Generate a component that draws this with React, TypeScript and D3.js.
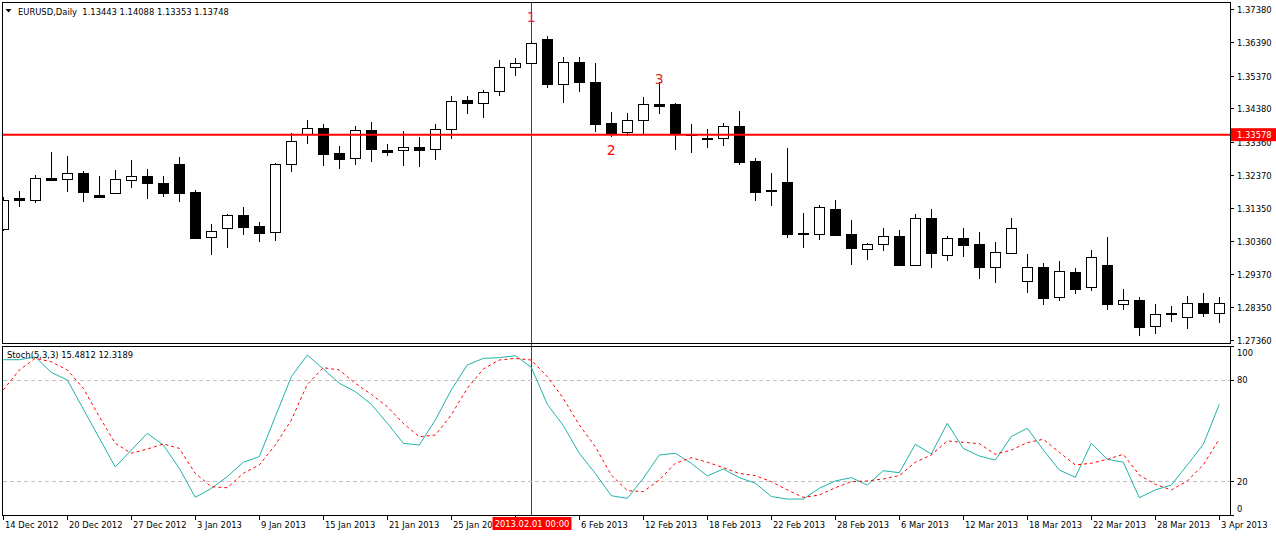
import { useEffect, useRef } from 'react'
import * as d3 from 'd3'

// daily bars, 14 Dec 2012 .. 3 Apr 2013
const barDates = [
  '2012-12-14', '2012-12-17', '2012-12-18', '2012-12-19', '2012-12-20', '2012-12-21', '2012-12-24', '2012-12-26', '2012-12-27', '2012-12-28',
  '2012-12-31', '2013-01-02', '2013-01-03', '2013-01-04', '2013-01-07', '2013-01-08', '2013-01-09', '2013-01-10', '2013-01-11', '2013-01-14',
  '2013-01-15', '2013-01-16', '2013-01-17', '2013-01-18', '2013-01-21', '2013-01-22', '2013-01-23', '2013-01-24', '2013-01-25', '2013-01-28',
  '2013-01-29', '2013-01-30', '2013-01-31', '2013-02-01', '2013-02-04', '2013-02-05', '2013-02-06', '2013-02-07', '2013-02-08', '2013-02-11',
  '2013-02-12', '2013-02-13', '2013-02-14', '2013-02-15', '2013-02-18', '2013-02-19', '2013-02-20', '2013-02-21', '2013-02-22', '2013-02-25',
  '2013-02-26', '2013-02-27', '2013-02-28', '2013-03-01', '2013-03-04', '2013-03-05', '2013-03-06', '2013-03-07', '2013-03-08', '2013-03-11',
  '2013-03-12', '2013-03-13', '2013-03-14', '2013-03-15', '2013-03-18', '2013-03-19', '2013-03-20', '2013-03-21', '2013-03-22', '2013-03-25',
  '2013-03-26', '2013-03-27', '2013-03-28', '2013-03-29', '2013-04-01', '2013-04-02', '2013-04-03',
]

const openPrices = [
  1.30729, 1.31668, 1.31608, 1.32265, 1.32226, 1.32408, 1.31750, 1.31820, 1.32196, 1.32326,
  1.32114, 1.32690, 1.31841, 1.30463, 1.30741, 1.31135, 1.30802, 1.30620, 1.32680, 1.33590,
  1.33771, 1.33023, 1.32862, 1.33711, 1.33114, 1.33105, 1.33196, 1.33135, 1.33741, 1.34629,
  1.34529, 1.34892, 1.35620, 1.35741, 1.36477, 1.35104, 1.35771, 1.35174, 1.33923, 1.33650,
  1.34014, 1.34517, 1.34508, 1.33599, 1.33477, 1.33468, 1.33841, 1.32780, 1.31902, 1.32144,
  1.30599, 1.30578, 1.31326, 1.30569, 1.30105, 1.30256, 1.30499, 1.29638, 1.31044, 1.29941,
  1.30438, 1.30256, 1.29578, 1.30002, 1.29135, 1.29569, 1.28650, 1.29408, 1.28954, 1.29629,
  1.28457, 1.28560, 1.27772, 1.28166, 1.28045, 1.28469, 1.28184,
]

const highPrices = [
  1.31699, 1.31871, 1.32356, 1.33053, 1.32932, 1.32477, 1.32326, 1.32508, 1.32811, 1.32538,
  1.32326, 1.32911, 1.31902, 1.30872, 1.31165, 1.31387, 1.30932, 1.32720, 1.33629, 1.34023,
  1.33902, 1.33235, 1.33841, 1.33962, 1.33296, 1.33680, 1.33508, 1.33902, 1.34750, 1.34750,
  1.34932, 1.35841, 1.35901, 1.36416, 1.36577, 1.35932, 1.35932, 1.35750, 1.34265, 1.34235,
  1.34720, 1.35183, 1.34538, 1.33902, 1.33741, 1.33932, 1.34295, 1.32871, 1.32417, 1.33174,
  1.31205, 1.31447, 1.31599, 1.30993, 1.30305, 1.30750, 1.30690, 1.31175, 1.31326, 1.30499,
  1.30750, 1.30629, 1.30326, 1.31053, 1.29963, 1.29690, 1.29750, 1.29538, 1.30084, 1.30478,
  1.28902, 1.28660, 1.28448, 1.28387, 1.28690, 1.28781, 1.28660,
]

const lowPrices = [
  1.30669, 1.31396, 1.31517, 1.32184, 1.31850, 1.31547, 1.31680, 1.31790, 1.31971, 1.31638,
  1.31699, 1.31547, 1.30417, 1.29932, 1.30153, 1.30547, 1.30335, 1.30366, 1.32456, 1.33305,
  1.32638, 1.32547, 1.32668, 1.32750, 1.32941, 1.32638, 1.32608, 1.32820, 1.33456, 1.34205,
  1.34092, 1.34759, 1.35365, 1.35720, 1.35001, 1.34547, 1.34880, 1.33668, 1.33499, 1.33529,
  1.33590, 1.34214, 1.33114, 1.33032, 1.33183, 1.33244, 1.32668, 1.31578, 1.31426, 1.30456,
  1.30153, 1.30396, 1.30517, 1.29638, 1.29781, 1.30063, 1.29614, 1.29614, 1.29547, 1.29760,
  1.29881, 1.29214, 1.29093, 1.29972, 1.28790, 1.28426, 1.28548, 1.28760, 1.28850, 1.28275,
  1.28275, 1.27487, 1.27548, 1.27911, 1.27699, 1.28063, 1.27881,
]

const closePrices = [
  1.31599, 1.31608, 1.32256, 1.32205, 1.32408, 1.31850, 1.31699, 1.32226, 1.32317, 1.32123,
  1.31820, 1.31820, 1.30447, 1.30659, 1.31135, 1.30790, 1.30608, 1.32680, 1.33377, 1.33771,
  1.33002, 1.32850, 1.33711, 1.33153, 1.33062, 1.33196, 1.33123, 1.33741, 1.34598, 1.34529,
  1.34871, 1.35620, 1.35750, 1.36347, 1.35104, 1.35771, 1.35165, 1.33911, 1.33599, 1.34023,
  1.34498, 1.34456, 1.33599, 1.33559, 1.33459, 1.33832, 1.32759, 1.31850, 1.31881, 1.30569,
  1.30581, 1.31387, 1.30547, 1.30153, 1.30256, 1.30499, 1.29638, 1.31044, 1.30002, 1.30438,
  1.30244, 1.29578, 1.30014, 1.30741, 1.29560, 1.28638, 1.29438, 1.28911, 1.29863, 1.28457,
  1.28560, 1.27760, 1.28135, 1.28145, 1.28469, 1.28184, 1.28469,
]

// Stochastic(5,3,3): main (%K) and signal (%D)
const stochMain = [
  92.0, 92.0, 93.6, 84.5, 80.0, 62.8, 45.6, 28.5, 38.5, 48.4,
  41.5, 27.7, 10.5, 15.8, 22.8, 31.3, 34.6, 58.3, 81.9, 94.8,
  86.5, 78.1, 73.1, 65.6, 54.4, 42.5, 41.5, 56.3, 74.1, 88.9,
  92.8, 93.2, 94.4, 87.5, 65.6, 53.0, 36.6, 24.7, 11.5, 9.9,
  21.8, 35.6, 36.6, 30.7, 23.2, 27.3, 22.2, 18.9, 11.0, 9.5,
  9.5, 15.9, 20.2, 22.2, 17.8, 26.3, 25.1, 41.9, 36.2, 54.3,
  39.5, 35.0, 32.6, 46.5, 51.4, 38.6, 26.7, 22.4, 42.5, 33.0,
  31.3, 10.3, 14.9, 17.8, 29.7, 41.9, 65.6,
]

const stochSignal = [
  74.1, 85.9, 92.8, 90.8, 85.9, 75.1, 58.3, 42.5, 36.6, 39.1,
  42.1, 39.5, 24.7, 16.8, 16.2, 24.7, 29.7, 41.5, 56.3, 77.4,
  87.3, 85.9, 78.0, 71.5, 64.2, 54.3, 46.4, 47.4, 59.3, 75.1,
  86.5, 91.8, 92.8, 91.8, 82.0, 69.1, 53.4, 40.5, 23.7, 14.5,
  13.9, 20.8, 30.7, 34.0, 31.3, 28.1, 24.7, 23.4, 19.8, 14.9,
  10.5, 11.9, 16.2, 19.8, 20.2, 21.4, 23.4, 31.3, 35.6, 43.9,
  43.1, 42.3, 36.0, 38.5, 42.9, 44.9, 37.2, 29.7, 30.7, 33.0,
  36.0, 23.7, 18.2, 14.9, 20.2, 29.7, 45.1,
]

const priceTicks = [1.3738, 1.3639, 1.3537, 1.3438, 1.3336, 1.3237, 1.3135, 1.3036, 1.2937, 1.2835, 1.2736]
const stochTicks = [100, 80, 20, 0]
const stochLevels = [80, 20]

const levelPrice = 1.33578
const cursorBar = 33
const waveLabels = ['1', '2', '3']
const waveBars = [33, 38, 41]
const wavePrices = [1.36992, 1.32962, 1.35128]
const waveColors = ['#e0185c', '#ff0000', '#d8301c']

const chartTitle = 'EURUSD,Daily  1.13443 1.14088 1.13353 1.13748'
const stochTitle = 'Stoch(5,3,3) 15.4812 12.3189'

export default function App() {
  const svgRef = useRef<SVGSVGElement>(null)

  useEffect(() => {
    if (!svgRef.current) return
    const svg = d3.select(svgRef.current)
    svg.selectAll('*').remove()

    const width = 1276
    const height = 536
    const plotRight = 1230
    const font = 'DejaVu Sans'
    const fontSize = 8.4

    const n = barDates.length
    const x = d3.scaleLinear().domain([0, n - 1]).range([3.3, 1219.3])
    const y = d3.scaleLinear().domain([1.2736, 1.3738]).range([339.9, 9.2])
    const ys = d3.scaleLinear().domain([0, 100]).range([515.1, 346.2])
    const px = (i: number) => Math.floor(x(i)) + 0.5
    const snap = (v: number) => Math.round(v) + 0.5

    const parse = d3.utcParse('%Y-%m-%d')
    const fmtTick = d3.utcFormat('%-d %b %Y')
    const fmtCursor = d3.utcFormat('%Y.%m.%d %H:%M')

    // cursor label box on the time axis
    const cx = px(cursorBar)
    const boxLeft = cx - 39
    const boxRight = cx + 40

    svg.append('rect').attr('width', width).attr('height', height).attr('fill', '#fff')

    const defs = svg.append('defs')
    defs.append('clipPath').attr('id', 'clip-main')
      .append('rect').attr('x', 3).attr('y', 3).attr('width', plotRight - 3).attr('height', 340)
    defs.append('clipPath').attr('id', 'clip-stoch')
      .append('rect').attr('x', 3).attr('y', 347).attr('width', plotRight - 3).attr('height', 168)
    const timeClip = defs.append('clipPath').attr('id', 'clip-time')
    timeClip.append('rect').attr('x', 0).attr('y', 516).attr('width', boxLeft).attr('height', 20)
    timeClip.append('rect').attr('x', boxRight).attr('y', 516).attr('width', width - boxRight).attr('height', 20)

    // cursor line behind everything
    svg.append('line')
      .attr('x1', cx).attr('x2', cx)
      .attr('y1', 3).attr('y2', 515)
      .attr('stroke', '#e00000').attr('stroke-width', 1)

    // ---- price panel
    const main = svg.append('g').attr('clip-path', 'url(#clip-main)')
    const bars = d3.range(n)

    main.selectAll('.wick').data(bars).enter().append('line')
      .attr('class', 'wick')
      .attr('x1', px).attr('x2', px)
      .attr('y1', i => Math.round(y(highPrices[i])))
      .attr('y2', i => Math.round(y(lowPrices[i])))
      .attr('stroke', '#000')
      .attr('stroke-width', 1)

    main.selectAll('.body').data(bars).enter().append('rect')
      .attr('class', 'body')
      .attr('x', i => Math.floor(x(i)) - 4.5)
      .attr('y', i => snap(y(Math.max(openPrices[i], closePrices[i]))))
      .attr('width', 10)
      .attr('height', i => Math.max(1,
        Math.round(y(Math.min(openPrices[i], closePrices[i]))) - Math.round(y(Math.max(openPrices[i], closePrices[i])))))
      .attr('fill', i => closePrices[i] > openPrices[i] ? '#fff' : '#000')
      .attr('stroke', '#000')
      .attr('stroke-width', 1)

    main.append('line')
      .attr('x1', 3).attr('x2', plotRight)
      .attr('y1', y(levelPrice)).attr('y2', y(levelPrice))
      .attr('stroke', '#ff0000').attr('stroke-width', 2)

    main.selectAll('.wave').data(waveLabels).enter().append('text')
      .attr('x', (_, k) => x(waveBars[k]))
      .attr('y', (_, k) => y(wavePrices[k]))
      .attr('text-anchor', 'middle')
      .attr('font-family', font)
      .attr('font-size', 14)
      .attr('fill', (_, k) => waveColors[k])
      .text(d => d)

    // header
    svg.append('path').attr('d', 'M5.5,9 L11.5,9 L8.5,12.5 Z').attr('fill', '#000')
    svg.append('text')
      .attr('x', 18).attr('y', 14.5)
      .attr('font-family', font).attr('font-size', fontSize)
      .style('white-space', 'pre')
      .text(chartTitle)

    // ---- stochastic panel
    const sub = svg.append('g').attr('clip-path', 'url(#clip-stoch)')

    sub.selectAll('.level').data(stochLevels).enter().append('line')
      .attr('x1', 3).attr('x2', plotRight)
      .attr('y1', d => snap(ys(d))).attr('y2', d => snap(ys(d)))
      .attr('stroke', '#c0c0c0').attr('stroke-dasharray', '4 3')

    const line = (vals: number[]) => d3.line<number>()
      .x(i => x(i))
      .y(i => ys(vals[i]))(bars)

    sub.append('path')
      .attr('d', line(stochMain))
      .attr('fill', 'none').attr('stroke', '#20b2aa').attr('stroke-width', 1)

    sub.append('path')
      .attr('d', line(stochSignal))
      .attr('fill', 'none').attr('stroke', '#ff0000').attr('stroke-width', 1)
      .attr('stroke-dasharray', '3 3')

    svg.append('text')
      .attr('x', 7).attr('y', 358)
      .attr('font-family', font).attr('font-size', fontSize)
      .text(stochTitle)

    // ---- frames
    svg.append('rect').attr('x', 2.5).attr('y', 2.5).attr('width', plotRight - 2).attr('height', 341)
      .attr('fill', 'none').attr('stroke', '#000')
    svg.append('rect').attr('x', 2.5).attr('y', 346.5).attr('width', plotRight - 2).attr('height', 169)
      .attr('fill', 'none').attr('stroke', '#000')

    // ---- price axis
    const priceAxis = svg.append('g')
    priceTicks.forEach(p => {
      const yy = snap(y(p))
      priceAxis.append('line')
        .attr('x1', plotRight + 1).attr('x2', plotRight + 4)
        .attr('y1', yy).attr('y2', yy).attr('stroke', '#000')
      priceAxis.append('text')
        .attr('x', 1237).attr('y', y(p) + 4)
        .attr('font-family', font).attr('font-size', fontSize)
        .text(p.toFixed(5))
    })

    const ly = y(levelPrice)
    priceAxis.append('rect')
      .attr('x', plotRight + 1).attr('y', ly - 6.5).attr('width', width - plotRight - 1).attr('height', 13)
      .attr('fill', '#ff0000')
    priceAxis.append('text')
      .attr('x', 1237).attr('y', ly + 3.5)
      .attr('font-family', font).attr('font-size', fontSize).attr('fill', '#fff')
      .text(levelPrice.toFixed(5))

    // ---- stochastic axis
    stochTicks.forEach(v => {
      const yy = snap(ys(v))
      const ty = v === 100 ? ys(v) + 10 : v === 0 ? ys(v) - 3.5 : ys(v) + 3.5
      svg.append('line')
        .attr('x1', plotRight + 1).attr('x2', plotRight + 4)
        .attr('y1', yy).attr('y2', yy).attr('stroke', '#000')
      svg.append('text')
        .attr('x', 1237).attr('y', ty)
        .attr('font-family', font).attr('font-size', fontSize)
        .text(String(v))
    })

    // ---- time axis (labels under the cursor box are hidden, as in the terminal)
    const timeLabels = svg.append('g').attr('clip-path', 'url(#clip-time)')
    const tickBars = d3.range(0, n, 4)
    tickBars.forEach(i => {
      const tx = px(i)
      svg.append('line')
        .attr('x1', tx).attr('x2', tx).attr('y1', 515.5).attr('y2', 520)
        .attr('stroke', '#000')
      if (tx > boxLeft && tx < boxRight) return
      timeLabels.append('text')
        .attr('x', tx + 1.5).attr('y', 527.5)
        .attr('font-family', font).attr('font-size', fontSize)
        .text(fmtTick(parse(barDates[i]) as Date))
    })

    svg.append('rect')
      .attr('x', boxLeft).attr('y', 517).attr('width', boxRight - boxLeft).attr('height', 13)
      .attr('fill', '#ff0000')
    svg.append('text')
      .attr('x', cx + 0.5).attr('y', 527)
      .attr('text-anchor', 'middle')
      .attr('font-family', font).attr('font-size', fontSize).attr('fill', '#fff')
      .text(fmtCursor(parse(barDates[cursorBar]) as Date))
  }, [])

  return (
    <div style={{ position: 'absolute', left: 0, top: 0 }}>
      <svg ref={svgRef} width={1276} height={536} style={{ display: 'block' }} />
    </div>
  )
}
